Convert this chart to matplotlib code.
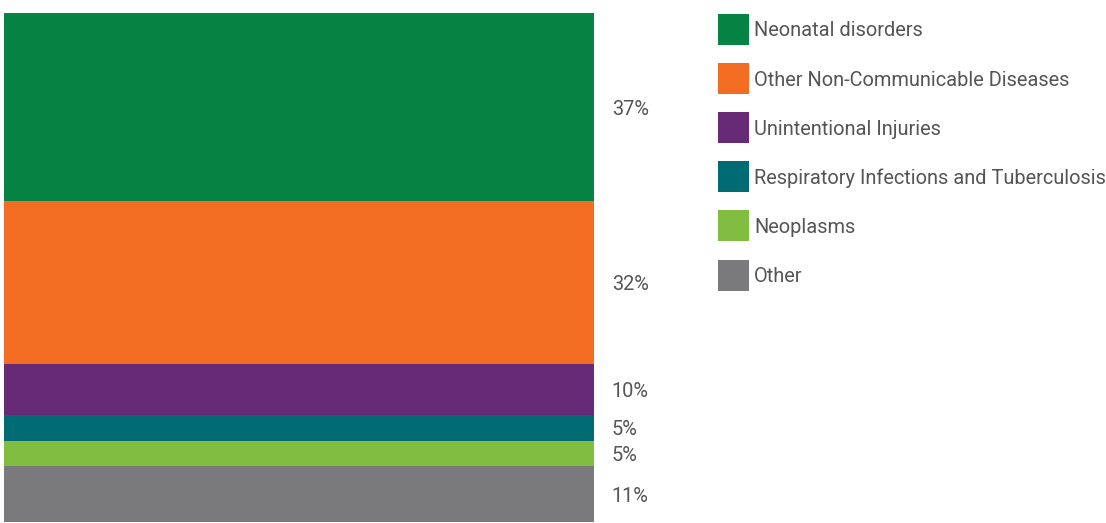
import matplotlib
matplotlib.use("Agg")
from matplotlib import pyplot as plt
from matplotlib.patches import Rectangle

plt.rcParams['font.family'] = ['Roboto', 'DejaVu Sans']

categories = ["Neonatal disorders", "Other Non-Communicable Diseases", "Unintentional Injuries",
              "Respiratory Infections and Tuberculosis", "Neoplasms", "Other"]
shares = [37, 32, 10, 5, 5, 11]
colors = ["#068343", "#f26d21", "#672a75", "#016b73", "#80bd41", "#7a7a7c"]
text_color = "#555555"
fs = 14.4

W, H = 1106, 523
fig = plt.figure(figsize=(W / 100, H / 100), dpi=100)

# stacked single bar, first category on top
ax = fig.add_axes([4 / W, 1 / H, 590 / W, 509 / H])
ax.set_xlim(0, 1)
ax.set_ylim(sum(shares), 0)
ax.axis("off")

bottom = 0
for share, color in zip(shares, colors):
    ax.bar(0.5, share, width=1, bottom=bottom, color=color, linewidth=0)
    ax.text(1.03, bottom + share / 2, f"{share}%", va="center_baseline", ha="left",
            fontsize=fs, color=text_color, clip_on=False)
    bottom += share

# legend in pixel units
lg = fig.add_axes([0, 0, 1, 1])
lg.set_xlim(0, W)
lg.set_ylim(H, 0)
lg.axis("off")
lg.patch.set_alpha(0)
for i, (name, color) in enumerate(zip(categories, colors)):
    yc = 29 + i * 49.2
    lg.add_patch(Rectangle((718, yc - 15.5), 31, 31, color=color, linewidth=0))
    lg.text(754, yc, name, va="center_baseline", ha="left", fontsize=fs, color=text_color)

fig.savefig("out.png", dpi=100)
